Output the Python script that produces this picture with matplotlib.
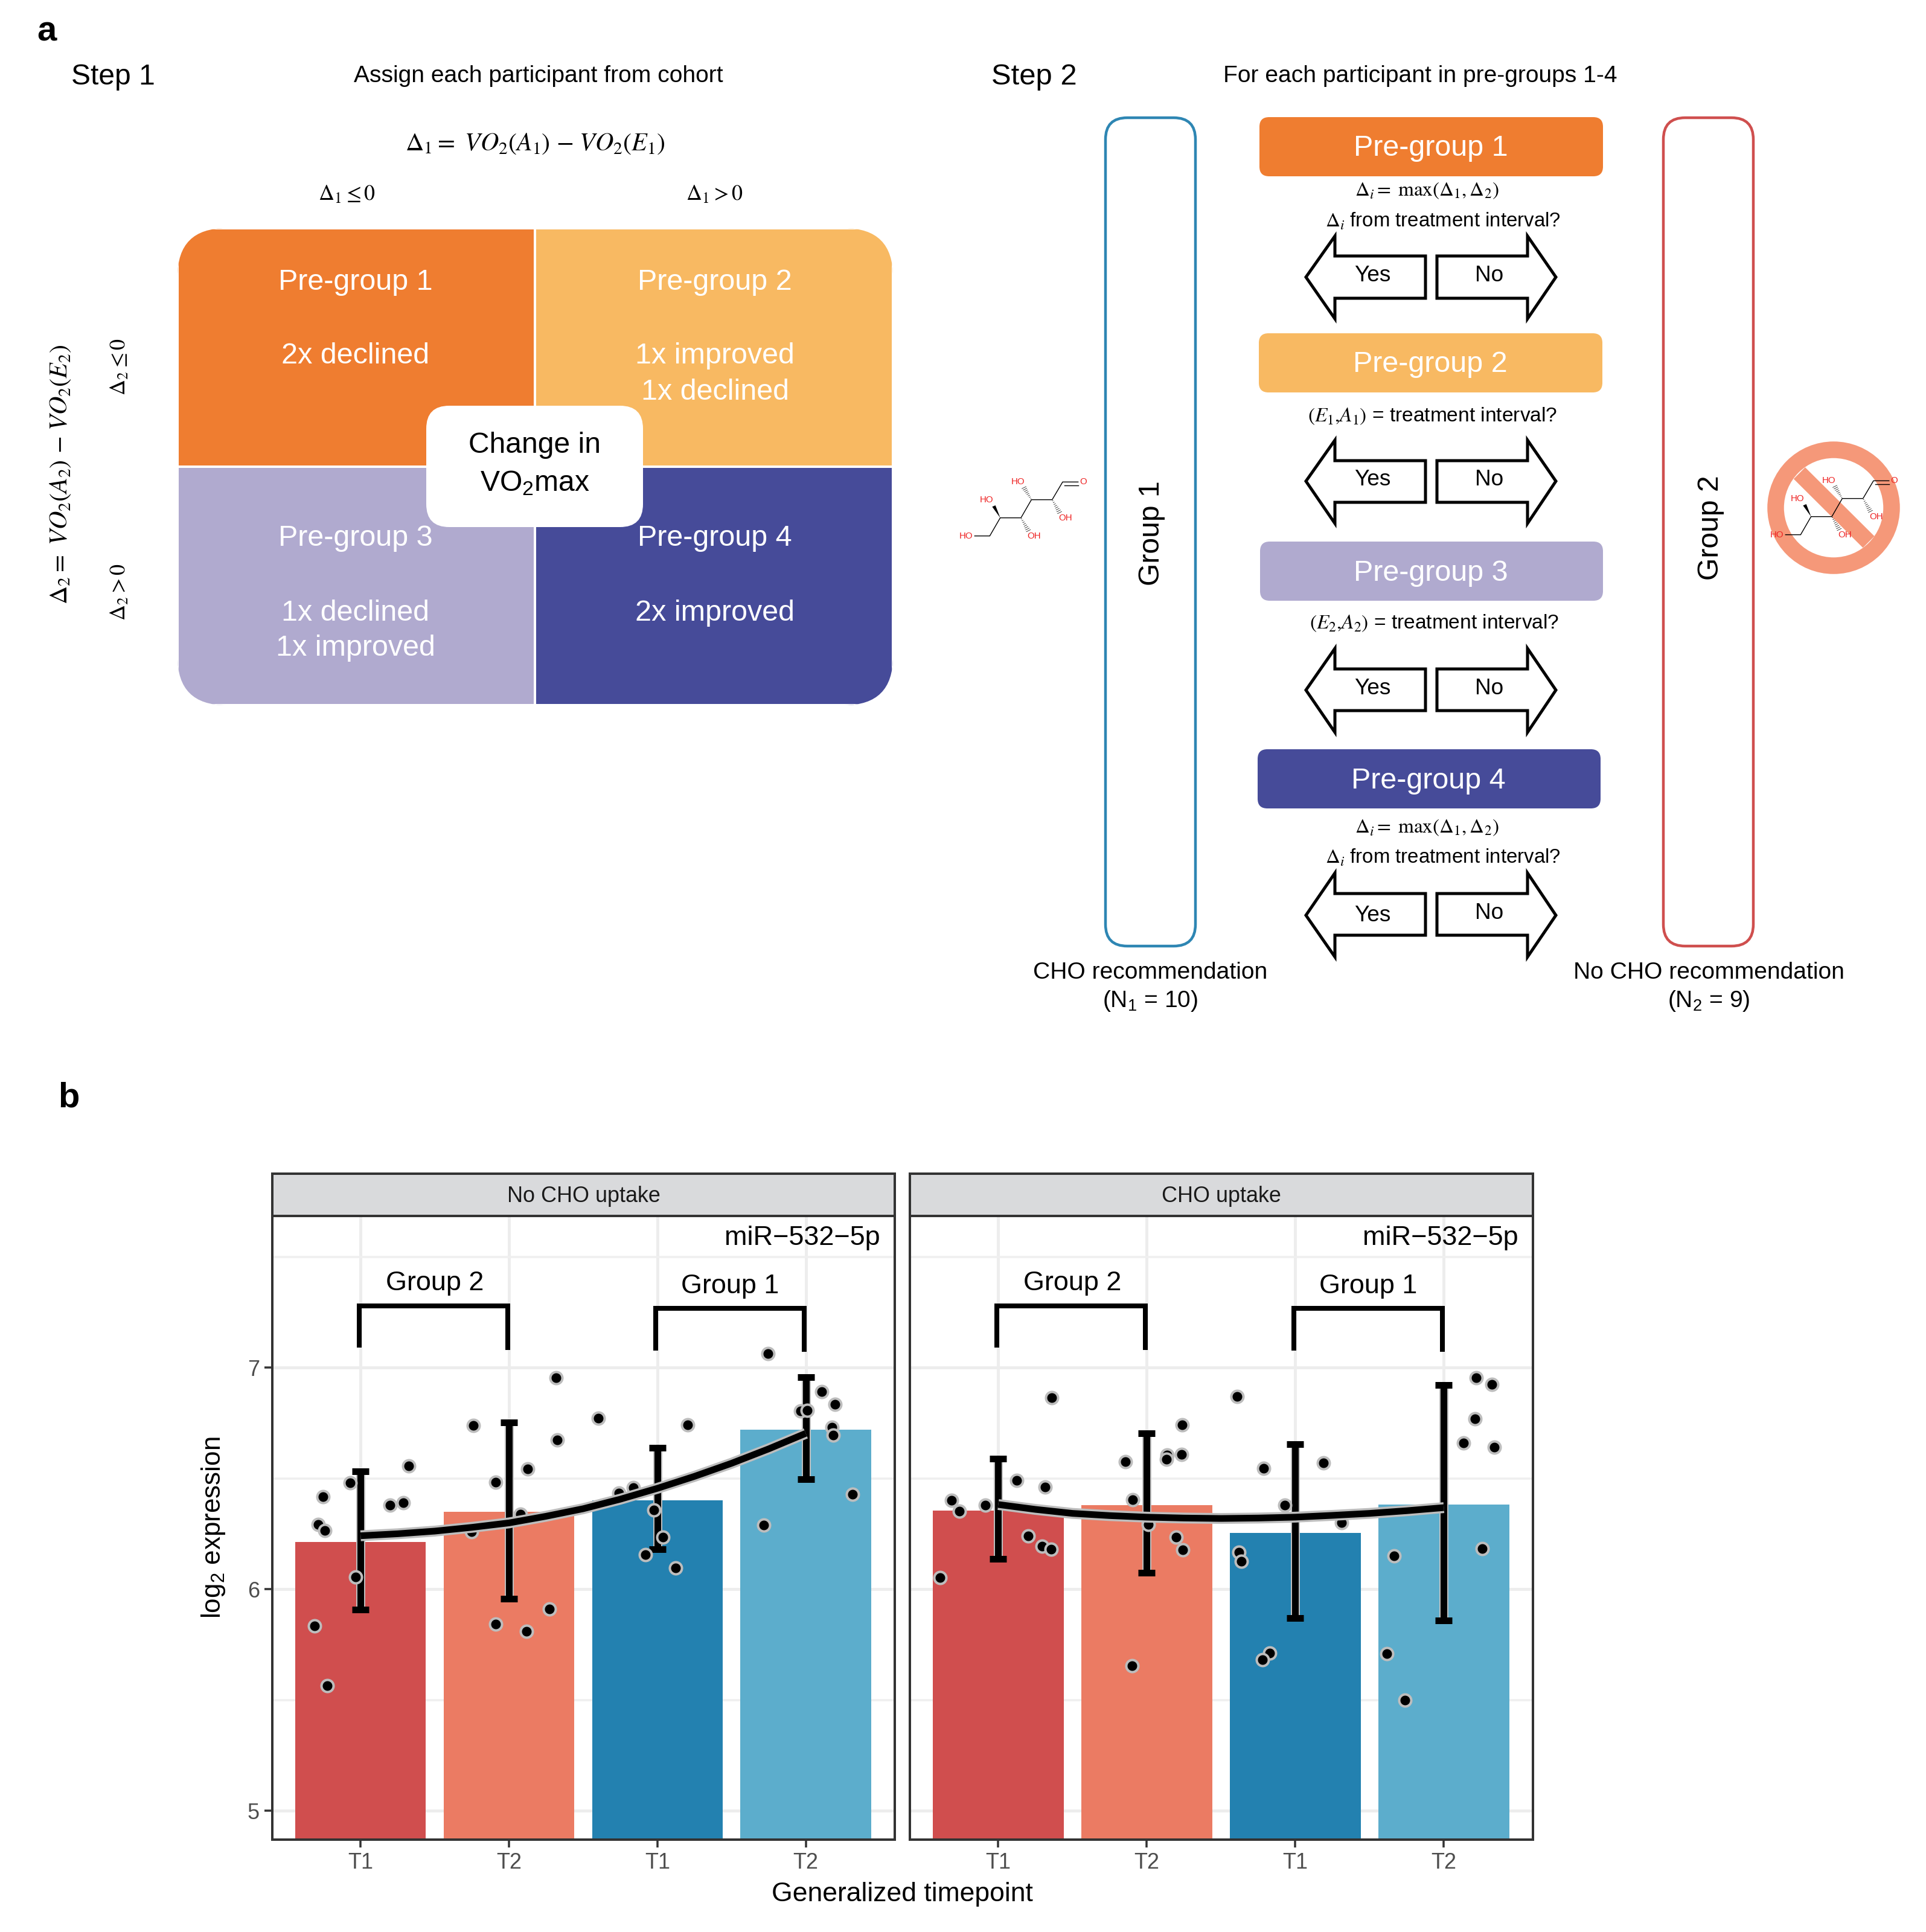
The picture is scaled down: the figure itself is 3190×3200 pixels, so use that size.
import numpy as np
import matplotlib
matplotlib.use('Agg')
import matplotlib.pyplot as plt
from matplotlib.patches import FancyBboxPatch, Rectangle, Polygon, Circle

plt.rcParams['font.family'] = ['Liberation Sans', 'DejaVu Sans']
plt.rcParams['mathtext.fontset'] = 'stix'
plt.rcParams['mathtext.default'] = 'regular'

W, H = 3190, 3200
DPI = 300

# --- values ---
timepoints = ['T1', 'T2', 'T1', 'T2']
facet_names = ['No CHO uptake', 'CHO uptake']
mirna = 'miR\u2212532\u22125p'
yticks_major = [5, 6, 7]
yticks_minor = [5.5, 6.5, 7.5]
bar_colors = ['#D04E4E', '#EB7B63', '#2381B0', '#5CADCC']

bars_no = [6.214, 6.349, 6.401, 6.72]
low_no = [5.908, 5.958, 6.179, 6.495]
high_no = [6.533, 6.752, 6.639, 6.958]
bars_cho = [6.354, 6.38, 6.253, 6.382]
low_cho = [6.137, 6.073, 5.870, 5.858]
high_cho = [6.589, 6.703, 6.653, 6.92]

pts_x_no = [-0.255, -0.071, -0.286, -0.242, -0.034, -0.311, -0.224, 0.199, 0.289, 0.326,
            0.758, 0.911, 0.746, 1.079, 1.128, 1.318, 1.327, 1.604, 1.274, 0.911, 1.119,
            1.741, 1.840, 1.977, 2.036, 1.918, 2.123, 2.204,
            2.745, 2.717, 2.965, 3.012, 3.108, 3.199, 3.177, 3.183, 3.317]
pts_y_no = [6.417, 6.479, 6.292, 6.264, 6.056, 5.833, 5.566, 6.378, 6.389, 6.556,
            6.740, 6.484, 6.259, 6.339, 6.542, 6.955, 6.672, 6.771, 5.910, 5.842, 5.809,
            6.434, 6.457, 6.356, 6.234, 6.155, 6.097, 6.741,
            7.063, 6.288, 6.804, 6.806, 6.891, 6.835, 6.731, 6.696, 6.429]
pts_x_cho = [-0.313, -0.262, -0.085, -0.393, 0.123, 0.316, 0.362, 0.202, 0.296, 0.356,
             0.855, 0.903, 1.009, 1.137, 1.131, 1.236, 1.239, 1.197, 1.242, 0.900,
             1.610, 1.789, 1.929, 2.191, 2.311, 1.621, 1.635, 1.826, 1.778,
             2.664, 2.615, 2.738, 3.216, 3.325, 3.208, 3.131, 3.339, 3.259]
pts_y_cho = [6.401, 6.352, 6.378, 6.052, 6.491, 6.462, 6.865, 6.241, 6.193, 6.179,
             6.575, 6.405, 6.292, 6.606, 6.587, 6.608, 6.741, 6.234, 6.177, 5.655,
             6.870, 6.545, 6.380, 6.569, 6.300, 6.168, 6.127, 5.712, 5.682,
             6.151, 5.708, 5.498, 6.955, 6.924, 6.769, 6.661, 6.642, 6.184]

curve_x = [0, 0.25, 0.5, 0.75, 1, 1.25, 1.5, 1.75, 2, 2.25, 2.5, 2.75, 3]
curve_no = [6.241, 6.250, 6.262, 6.279, 6.299, 6.329, 6.363, 6.406, 6.455, 6.509, 6.568, 6.633, 6.703]
curve_cho = [6.382, 6.360, 6.342, 6.332, 6.325, 6.321, 6.319, 6.321, 6.325, 6.333, 6.342, 6.354, 6.368]

ORANGE, LIGHT, LAV, NAVY = '#EF7D30', '#F8B962', '#B0AACF', '#464B99'


def px(v):
    """pixels of the final image to points"""
    return v * 72 / DPI


fig = plt.figure(figsize=(W / DPI, H / DPI), dpi=DPI, facecolor='white')
ov = fig.add_axes([0, 0, 1, 1], zorder=5)
ov.set_xlim(0, W)
ov.set_ylim(H, 0)
ov.axis('off')
ov.patch.set_alpha(0)


def txt(x, y, s, size, color='black', ha='center', va='center', **kw):
    # the reference text sits a few pixels lower / further right than the centred box
    if kw.get('rotation') == 90:
        x += 4
    else:
        y += 4
    ov.text(x, y, s, fontsize=px(size), color=color, ha=ha, va=va, **kw)


def vo(a, i):
    return (r'\mathit{VO}_\mathrm{2}\mathrm{(}\mathit{%s}_\mathrm{%s}\mathrm{)}' % (a, i))


# --- panel a, step 1 ---
txt(77, 48, 'a', 58, weight='bold')
txt(114, 1815, 'b', 58, weight='bold')
txt(118, 124, 'Step 1', 48, ha='left')
txt(892, 122, 'Assign each participant from cohort', 39)
txt(886, 234, r'$\mathrm{\Delta_1{=}}\ ' + vo('A', '1') + r'\ \mathrm{-}\ ' + vo('E', '1') + '$', 42)
txt(575, 318, r'$\mathrm{\Delta_1\leq 0}$', 36)
txt(1184, 318, r'$\mathrm{\Delta_1>0}$', 36)
txt(96, 786, r'$\mathrm{\Delta_2{=}}\ ' + vo('A', '2') + r'\ \mathrm{-}\ ' + vo('E', '2') + '$', 42, rotation=90)
txt(194, 607, r'$\mathrm{\Delta_2\leq 0}$', 36, rotation=90)
txt(194, 980, r'$\mathrm{\Delta_2>0}$', 36, rotation=90)

x0, xm, x1 = 294, 886, 1479
y0, ym, y1 = 378, 773, 1168
clip = FancyBboxPatch((x0, y0), x1 - x0, y1 - y0, boxstyle='round,pad=0,rounding_size=80',
                      fc='none', ec='none')
ov.add_patch(clip)
for rx, ry, rw, rh, col in [(x0, y0, xm - x0, ym - y0, ORANGE), (xm, y0, x1 - xm, ym - y0, LIGHT),
                            (x0, ym, xm - x0, y1 - ym, LAV), (xm, ym, x1 - xm, y1 - ym, NAVY)]:
    r = Rectangle((rx, ry), rw, rh, fc=col, ec='white', lw=px(4))
    ov.add_patch(r)
    r.set_clip_path(clip)
ov.add_patch(FancyBboxPatch((706, 672), 359, 201, boxstyle='round,pad=0,rounding_size=38',
                            fc='white', ec='none'))
for x, y, s in [(589, 463, 'Pre-group 1'), (589, 586, '2x declined'),
                (1184, 463, 'Pre-group 2'), (1184, 586, '1x improved'), (1184, 645, '1x declined'),
                (589, 888, 'Pre-group 3'), (589, 1011, '1x declined'), (589, 1069, '1x improved'),
                (1184, 888, 'Pre-group 4'), (1184, 1011, '2x improved')]:
    txt(x, y, s, 48.5, color='white')
txt(886, 733, 'Change in', 48)
txt(886, 796, 'VO$_2$max', 48)

# --- panel a, step 2 ---
txt(1642, 123, 'Step 2', 49, ha='left')
txt(2352, 122, 'For each participant in pre-groups 1-4', 39)

for bx, col in [(1831, '#2E86B3'), (2755, '#CF4F4E')]:
    ov.add_patch(FancyBboxPatch((bx, 195), 149, 1372, boxstyle='round,pad=0,rounding_size=36',
                                fc='none', ec=col, lw=px(4.5)))
txt(1904, 883, 'Group 1', 48, rotation=90)
txt(2829, 874, 'Group 2', 48, rotation=90)

for bx, by, bw, col, s in [(2086, 194, 569, ORANGE, 'Pre-group 1'), (2085, 552, 569, LIGHT, 'Pre-group 2'),
                           (2087, 897, 568, LAV, 'Pre-group 3'), (2083, 1241, 568, NAVY, 'Pre-group 4')]:
    ov.add_patch(FancyBboxPatch((bx, by), bw, 98, boxstyle='round,pad=0,rounding_size=16', fc=col, ec='none'))
    txt(bx + bw / 2 - 1, by + 48, s, 48.5, color='white')

max_s = r'$\mathrm{\Delta}_{\mathit{i}}\mathrm{{=}\ max(\Delta_1,\Delta_2)}$'
from_s = r'$\mathrm{\Delta}_{\mathit{i}}$ from treatment interval?'
txt(2363, 312, max_s, 33)
txt(2390, 362, from_s, 33)
txt(2373, 685, r'$\mathrm{(}\mathit{E}_\mathrm{1}\mathrm{,}\mathit{A}_\mathrm{1}\mathrm{)}$ = treatment interval?', 33.5)
txt(2376, 1028, r'$\mathrm{(}\mathit{E}_\mathrm{2}\mathrm{,}\mathit{A}_\mathrm{2}\mathrm{)}$ = treatment interval?', 33.5)
txt(2363, 1367, max_s, 33)
txt(2390, 1416, from_s, 33)

for (a, b, c, d, e), yes_y, no_y in [((391, 424, 459, 494, 528), 452, 452),
                                     ((729, 763, 797, 832, 867), 790, 790),
                                     ((1074, 1108, 1143, 1177, 1213), 1136, 1136),
                                     ((1446, 1480, 1516, 1549, 1585), 1512, 1508)]:
    ov.add_patch(Polygon([(2163, c), (2211, a), (2211, b), (2361, b), (2361, d), (2211, d), (2211, e)],
                         closed=True, fc='white', ec='black', lw=px(5), joinstyle='miter'))
    ov.add_patch(Polygon([(2577, c), (2530, a), (2530, b), (2380, b), (2380, d), (2530, d), (2530, e)],
                         closed=True, fc='white', ec='black', lw=px(5), joinstyle='miter'))
    txt(2273, yes_y, 'Yes', 37)
    txt(2467, no_y, 'No', 37)

txt(1905, 1607, 'CHO recommendation', 39)
txt(1905, 1654, '(N$_1$ = 10)', 39)
txt(2830, 1607, 'No CHO recommendation', 39)
txt(2830, 1654, '(N$_2$ = 9)', 39)


def molecule(ox, oy):
    chain = np.array([(163, 563), (238, 563), (290, 473), (393, 473), (445, 383), (548, 383),
                      (600, 295), (677, 295)]) / 3
    ov.plot(ox + chain[:, 0], oy + chain[:, 1], color='black', lw=px(1.4), solid_joinstyle='miter')
    ov.plot([ox + 610 / 3, ox + 677 / 3], [oy + 312 / 3, oy + 312 / 3], color='black', lw=px(1.4))
    ov.add_patch(Polygon([(ox + 290 / 3, oy + 473 / 3), (ox + 250 / 3, oy + 418 / 3), (ox + 266 / 3, oy + 411 / 3)],
                         fc='black', ec='none'))
    for (ax0, ay0), (ax1, ay1) in [((393, 473), (430, 537)), ((445, 383), (408, 323)), ((548, 383), (585, 447))]:
        for t, hw in zip(np.linspace(0.08, 1, 8), np.linspace(0.5, 3.4, 8)):
            cx, cy = (ax0 + (ax1 - ax0) * t) / 3, (ay0 + (ay1 - ay0) * t) / 3
            ov.plot([ox + cx - hw, ox + cx + hw], [oy + cy + hw * 0.5, oy + cy - hw * 0.5], color='black', lw=px(0.7))
    for lx, ly, s in [(120, 563, 'HO'), (458, 563, 'OH'), (223, 385, 'HO'), (378, 295, 'HO'),
                      (613, 473, 'OH'), (703, 295, 'O')]:
        ov.text(ox + lx / 3, oy + ly / 3, s, color='#EE2222', fontsize=px(15), ha='center', va='center')


molecule(1560, 700)
ov.add_patch(Circle((3037, 841), 96, fc='none', ec='#F59879', lw=px(27.5)))
ov.plot([2900 + 241 / 3, 2900 + 585 / 3], [700 + 251 / 3, 700 + 593 / 3], color='#F59879', lw=px(27),
        solid_capstyle='butt')
molecule(2903, 698)

# --- panel b ---
panel_boxes = [(451, 1482), (1507, 2539)]
p_top, p_bot, s_top = 2014, 3047, 1944


def make_axes(xa, xb, ya, yb):
    return fig.add_axes([xa / W, 1 - yb / H, (xb - xa) / W, (yb - ya) / H])


datasets = [(bars_no, low_no, high_no, pts_x_no, pts_y_no, curve_no),
            (bars_cho, low_cho, high_cho, pts_x_cho, pts_y_cho, curve_cho)]
for k, ((xa, xb), (bars, low, high, dots_x, dots_y, curve)) in enumerate(zip(panel_boxes, datasets)):
    ax = make_axes(xa, xb, p_top, p_bot)
    ax.set_xlim(-0.595, 3.6)
    ax.set_ylim(4.87, 7.684)
    ax.set_axisbelow(True)
    xs = np.arange(4)
    ax.bar(xs, bars, width=0.88, color=bar_colors, zorder=2)
    bars_arr, low_arr, high_arr = np.array(bars), np.array(low), np.array(high)
    ax.vlines(xs, low_arr, high_arr, color='#BDBDBD', lw=px(15), zorder=3)
    ax.errorbar(xs, bars_arr, yerr=[bars_arr - low_arr, high_arr - bars_arr], fmt='none', ecolor='black',
                elinewidth=px(11), capsize=px(14), capthick=px(11), zorder=3.2)
    ax.scatter(dots_x, dots_y, s=px(20) ** 2, c='black', edgecolors='#BDBDBD', linewidths=px(4), zorder=4)
    ax.plot(curve_x, curve, color='#BDBDBD', lw=px(18), solid_capstyle='butt', solid_joinstyle='round', zorder=5)
    ax.plot(curve_x, curve, color='black', lw=px(11), solid_capstyle='butt', solid_joinstyle='round', zorder=5.1)

    ax.set_xticks(xs)
    ax.set_xticklabels(timepoints, fontsize=px(36), color='#4D4D4D')
    ax.set_yticks(yticks_major)
    ax.set_yticks(yticks_minor, minor=True)
    ax.grid(True, which='major', color='#EDEDED', lw=px(5))
    ax.grid(True, which='minor', axis='y', color='#EFEFEF', lw=px(3.5))
    ax.tick_params(axis='both', which='major', length=px(13), width=px(3.5), color='#333333', pad=px(8))
    ax.tick_params(axis='y', which='minor', length=0)
    if k == 0:
        ax.set_yticklabels([str(v) for v in yticks_major], fontsize=px(36), color='#4D4D4D')
    else:
        ax.tick_params(axis='y', which='both', length=0, labelleft=False)
    for sp in ax.spines.values():
        sp.set_color('#333333')
        sp.set_linewidth(px(4))

    ax.text(3.5, 7.585, mirna, fontsize=px(45), ha='right', va='center', zorder=6)
    for x_left, x_right, y_top, y_l, y_r, tx, ty, s in [(-0.01, 0.99, 7.278, 7.089, 7.08, 0.50, 7.38, 'Group 2'),
                                                       (1.99, 2.99, 7.267, 7.076, 7.07, 2.49, 7.368, 'Group 1')]:
        ax.plot([x_left, x_left, x_right, x_right], [y_l, y_top, y_top, y_r], color='black', lw=px(8),
                solid_capstyle='butt', solid_joinstyle='miter', zorder=6)
        ax.text(tx, ty, s, fontsize=px(45), ha='center', va='center', zorder=6)

    st = make_axes(xa, xb, s_top, p_top)
    st.set_facecolor('#D9DADC')
    st.set_xticks([])
    st.set_yticks([])
    for sp in st.spines.values():
        sp.set_color('#333333')
        sp.set_linewidth(px(4))
    st.text(0.5, 0.47, facet_names[k], transform=st.transAxes, fontsize=px(36), color='#1A1A1A',
            ha='center', va='center')

txt(349, 2530, 'log$_2$ expression', 44, rotation=90)
txt(1494, 3133, 'Generalized timepoint', 44.5)

fig.savefig('out.png', dpi=DPI)
